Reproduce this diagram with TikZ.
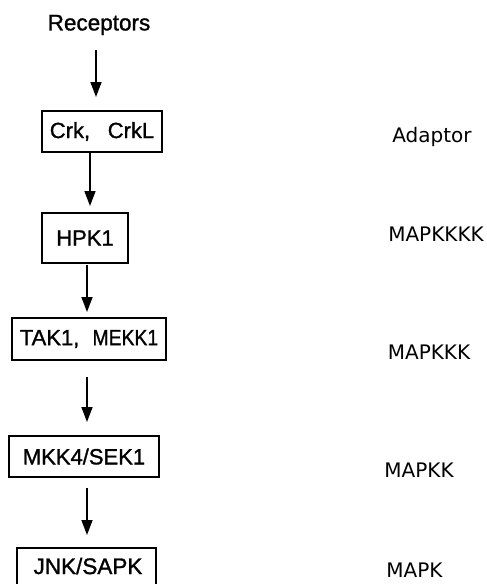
\documentclass[tikz,border=0pt]{standalone}
\usepackage{fontspec}
\setmainfont{Liberation Sans}
\newfontfamily\boxfont[FakeBold=1.2]{Liberation Sans}
\newfontfamily\lblfont{DejaVu Sans}
\usetikzlibrary{arrows.meta}
\begin{document}
\begin{tikzpicture}[x=1pt,y=-1pt,
  box/.style={draw=black,line width=1.7pt,inner sep=0pt,font=\boxfont\fontsize{22}{24}\selectfont},
  lbl/.style={inner sep=0pt,anchor=base,font=\lblfont\fontsize{20}{24}\selectfont},
  arr/.style={line width=1.5pt,-{Triangle[length=15pt,width=11pt]}}]
\useasboundingbox (0,0) rectangle (487,584);
\node[inner sep=0pt,font=\boxfont\fontsize{22.5}{24}\selectfont] (rec) at (99,25) {Receptors};
\node[box,minimum width=120pt,minimum height=41pt] (crk) at (102,131.5) {Crk,\hspace{0.8em}CrkL};
\node[box,minimum width=86pt,minimum height=50pt] (hpk) at (85,238) {HPK1};
\node[box,minimum width=154pt,minimum height=42pt] (tak) at (89,339) {TAK1,\hspace{0.6em}\scalebox{0.88}[1]{MEKK1}};
\node[box,minimum width=150pt,minimum height=41pt] (mkk) at (84,456.5) {MKK4/SEK1};
\node[box,minimum width=139pt,minimum height=60pt,anchor=north] (jnk) at (86.5,547) {};
\node[inner sep=0pt,font=\boxfont\fontsize{22.5}{24}\selectfont] (jnktxt) at (88,566) {JNK/SAPK};
\node[lbl] (ad) at (432,142) {Adaptor};
\node[lbl] (m4) at (436,241) {MAPKKKK};
\node[lbl] (m3) at (429,359) {MAPKKK};
\node[lbl] (m2) at (419,477.5) {MAPKK};
\node[lbl] (m1) at (414.5,577.5) {MAPK};
\coordinate (a1s) at (96,50);  \coordinate (a1e) at (96,97);
\coordinate (a2s) at (90,153); \coordinate (a2e) at (90,206);
\coordinate (a3s) at (87,265); \coordinate (a3e) at (87,312);
\coordinate (a4s) at (87,377); \coordinate (a4e) at (87,422);
\coordinate (a5s) at (87,488); \coordinate (a5e) at (87,535);
\draw[arr] (a1s) -- (a1e);
\draw[arr] (a2s) -- (a2e);
\draw[arr] (a3s) -- (a3e);
\draw[arr] (a4s) -- (a4e);
\draw[arr] (a5s) -- (a5e);
\end{tikzpicture}
\end{document}
